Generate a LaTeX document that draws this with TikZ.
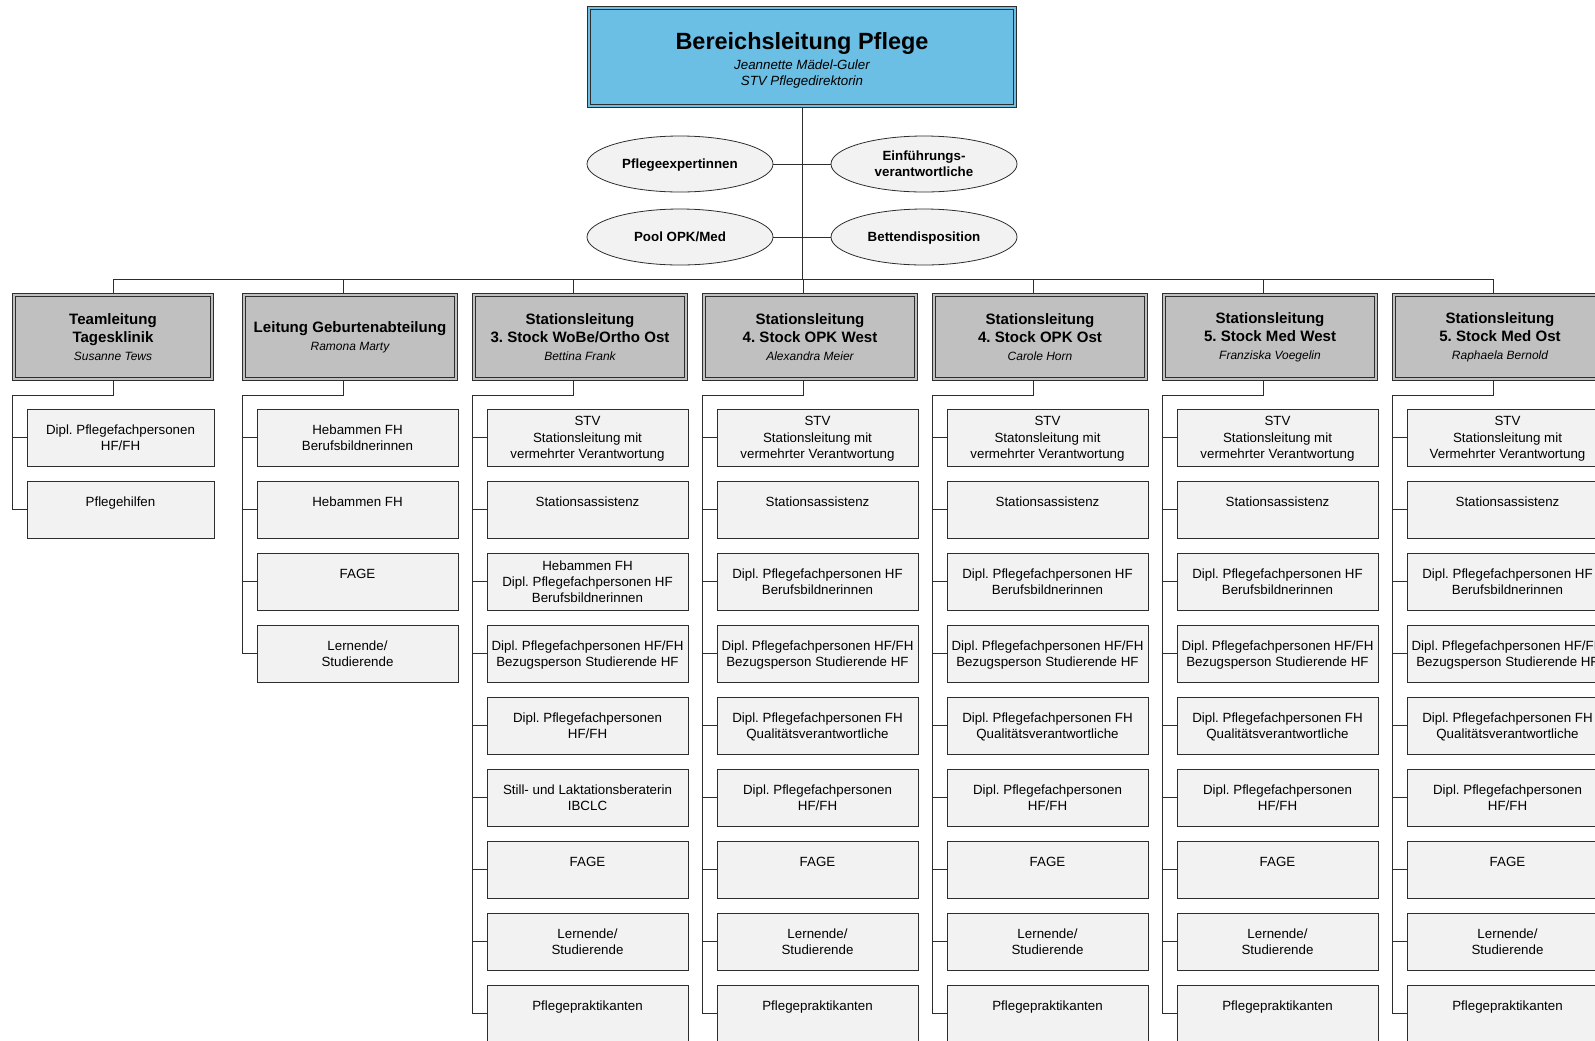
\documentclass[tikz,border=0pt]{standalone}
\usepackage{fontspec}
\setmainfont{Liberation Sans}
\usetikzlibrary{shapes,positioning,backgrounds}
\frenchspacing

\definecolor{chiefblue}{RGB}{107,190,228}
\definecolor{leadgray}{RGB}{192,192,192}
\definecolor{boxgray}{RGB}{242,242,242}
\definecolor{linegray}{RGB}{45,45,45}

\newcommand{\hbf}{\fontsize{11.3}{13.5}\selectfont\bfseries}
\newcommand{\hit}{\fontsize{9}{13.5}\selectfont\mdseries\itshape}

\begin{document}
\begin{tikzpicture}[x=0.75pt,y=-0.75pt,
    line/.style={draw=linegray,line width=0.6pt},
    chief/.style={rectangle,fill=chiefblue,draw=linegray,double=chiefblue,double distance=1.6pt,
      line width=0.6pt,minimum width=319.7pt,minimum height=73pt,inner sep=0pt,align=center,
      text depth=0pt,font=\fontsize{10}{12}\selectfont},
    lead/.style={rectangle,fill=leadgray,draw=linegray,double=leadgray,double distance=1.6pt,
      line width=0.6pt,minimum width=159.2pt,minimum height=62.5pt,inner sep=0pt,align=center,
      font=\fontsize{11.3}{13.5}\selectfont},
    staff/.style={ellipse,fill=boxgray,draw=linegray,line width=0.6pt,minimum width=139.5pt,
      minimum height=42pt,inner sep=0pt,align=center,text depth=0pt,
      font=\fontsize{10}{12}\selectfont\bfseries},
    member/.style={rectangle,fill=boxgray,draw=linegray,line width=0.6pt,minimum width=150.75pt,
      minimum height=42.75pt,inner sep=0pt,align=center,text depth=0pt,
      font=\fontsize{10}{12.2}\selectfont}]
    \useasboundingbox (0,0) rectangle (1595,1040);
    \clip (0,0) rectangle (1595,1040);
    %
    % Bereichsleitung und Stabsstellen
    \node[chief] (top) at (802,57) {\rule{0pt}{15.5pt}{\fontsize{17.6}{20}\selectfont\bfseries Bereichsleitung Pflege}\\[2.8pt]
      \itshape Jeannette Mädel-Guler\\\itshape STV Pflegedirektorin};
    \node[staff] (pe) at (680,164) {Pflegeexpertinnen};
    \node[staff] (ev) at (924,164) {Einführungs-\\verantwortliche};
    \node[staff] (pool) at (680,237) {Pool OPK/Med};
    \node[staff] (bett) at (924,237) {Bettendisposition};
    \coordinate (bus) at (802,279);
    %
    % Teamleitung Tagesklinik
    \pgfmathsetmacro{\l}{12}
    \node[lead,minimum width=148.7pt] (h1) at (\l+101,337) {\hbf Teamleitung\\\hbf Tagesklinik\\\hit Susanne Tews};
    \coordinate (d1) at (\l+101,279);
    \coordinate (s1) at (\l,395);
    \foreach \lbl [count=\i] in {{Dipl. Pflegefachpersonen\\HF/FH},{Pflegehilfen\\\mbox{}}}
      \node[member,minimum width=140.25pt] (c1-\i) at (\l+108.5,{437.5+72*(\i-1)}) {\lbl};
    %
    % Geburtenabteilung
    \pgfmathsetmacro{\l}{242}
    \node[lead] (h2) at (\l+108,337) {\hbf Leitung Geburtenabteilung\\\hit Ramona Marty};
    \coordinate (d2) at (\l+101,279);
    \coordinate (s2) at (\l,395);
    \foreach \lbl [count=\i] in {{Hebammen FH\\Berufsbildnerinnen},{Hebammen FH\\\mbox{}},{FAGE\\\mbox{}},
        {Lernende/\\Studierende}}
      \node[member] (c2-\i) at (\l+115.5,{437.5+72*(\i-1)}) {\lbl};
    %
    % 3. Stock WoBe/Ortho Ost
    \pgfmathsetmacro{\l}{472}
    \node[lead] (h3) at (\l+108,337) {\hbf Stationsleitung\\\hbf 3. Stock WoBe/Ortho Ost\\\hit Bettina Frank};
    \coordinate (d3) at (\l+101,279);
    \coordinate (s3) at (\l,395);
    \foreach \lbl [count=\i] in {{STV\\Stationsleitung mit\\vermehrter Verantwortung},{Stationsassistenz\\\mbox{}},
        {Hebammen FH\\Dipl. Pflegefachpersonen HF\\Berufsbildnerinnen},
        {Dipl. Pflegefachpersonen HF/FH\\Bezugsperson Studierende HF},{Dipl. Pflegefachpersonen\\HF/FH},
        {Still- und Laktationsberaterin\\IBCLC},{FAGE\\\mbox{}},{Lernende/\\Studierende},{Pflegepraktikanten\\\mbox{}}}
      \node[member] (c3-\i) at (\l+115.5,{437.5+72*(\i-1)}) {\lbl};
    %
    % 4. Stock OPK West
    \pgfmathsetmacro{\l}{702}
    \node[lead] (h4) at (\l+108,337) {\hbf Stationsleitung\\\hbf 4. Stock OPK West\\\hit Alexandra Meier};
    \coordinate (d4) at (\l+101,279);
    \coordinate (s4) at (\l,395);
    \foreach \lbl [count=\i] in {{STV\\Stationsleitung mit\\vermehrter Verantwortung},{Stationsassistenz\\\mbox{}},
        {Dipl. Pflegefachpersonen HF\\Berufsbildnerinnen},{Dipl. Pflegefachpersonen HF/FH\\Bezugsperson Studierende HF},
        {Dipl. Pflegefachpersonen FH\\Qualitätsverantwortliche},{Dipl. Pflegefachpersonen\\HF/FH},
        {FAGE\\\mbox{}},{Lernende/\\Studierende},{Pflegepraktikanten\\\mbox{}}}
      \node[member] (c4-\i) at (\l+115.5,{437.5+72*(\i-1)}) {\lbl};
    %
    % 4. Stock OPK Ost
    \pgfmathsetmacro{\l}{932}
    \node[lead] (h5) at (\l+108,337) {\hbf Stationsleitung\\\hbf 4. Stock OPK Ost\\\hit Carole Horn};
    \coordinate (d5) at (\l+101,279);
    \coordinate (s5) at (\l,395);
    \foreach \lbl [count=\i] in {{STV\\Statonsleitung mit\\vermehrter Verantwortung},{Stationsassistenz\\\mbox{}},
        {Dipl. Pflegefachpersonen HF\\Berufsbildnerinnen},{Dipl. Pflegefachpersonen HF/FH\\Bezugsperson Studierende HF},
        {Dipl. Pflegefachpersonen FH\\Qualitätsverantwortliche},{Dipl. Pflegefachpersonen\\HF/FH},
        {FAGE\\\mbox{}},{Lernende/\\Studierende},{Pflegepraktikanten\\\mbox{}}}
      \node[member] (c5-\i) at (\l+115.5,{437.5+72*(\i-1)}) {\lbl};
    %
    % 5. Stock Med West
    \pgfmathsetmacro{\l}{1162}
    \node[lead] (h6) at (\l+108,337) {\hbf Stationsleitung\\\hbf 5. Stock Med West\\\hit Franziska Voegelin};
    \coordinate (d6) at (\l+101,279);
    \coordinate (s6) at (\l,395);
    \foreach \lbl [count=\i] in {{STV\\Stationsleitung mit\\vermehrter Verantwortung},{Stationsassistenz\\\mbox{}},
        {Dipl. Pflegefachpersonen HF\\Berufsbildnerinnen},{Dipl. Pflegefachpersonen HF/FH\\Bezugsperson Studierende HF},
        {Dipl. Pflegefachpersonen FH\\Qualitätsverantwortliche},{Dipl. Pflegefachpersonen\\HF/FH},
        {FAGE\\\mbox{}},{Lernende/\\Studierende},{Pflegepraktikanten\\\mbox{}}}
      \node[member] (c6-\i) at (\l+115.5,{437.5+72*(\i-1)}) {\lbl};
    %
    % 5. Stock Med Ost
    \pgfmathsetmacro{\l}{1392}
    \node[lead] (h7) at (\l+108,337) {\hbf Stationsleitung\\\hbf 5. Stock Med Ost\\\hit Raphaela Bernold};
    \coordinate (d7) at (\l+101,279);
    \coordinate (s7) at (\l,395);
    \foreach \lbl [count=\i] in {{STV\\Stationsleitung mit\\Vermehrter Verantwortung},{Stationsassistenz\\\mbox{}},
        {Dipl. Pflegefachpersonen HF\\Berufsbildnerinnen},{Dipl. Pflegefachpersonen HF/FH\\Bezugsperson Studierende HF},
        {Dipl. Pflegefachpersonen FH\\Qualitätsverantwortliche},{Dipl. Pflegefachpersonen\\HF/FH},
        {FAGE\\\mbox{}},{Lernende/\\Studierende},{Pflegepraktikanten\\\mbox{}}}
      \node[member] (c7-\i) at (\l+115.5,{437.5+72*(\i-1)}) {\lbl};
    %
    % Verbindungen
    \begin{pgfonlayer}{background}
      \draw[line] (top.south) -- (bus);
      \draw[line] (pe.east) -- (ev.west);
      \draw[line] (pool.east) -- (bett.west);
      \draw[line] (d1) -- (d7);
      \foreach \c/\n in {1/2,2/4,3/9,4/9,5/9,6/9,7/9} {
        \draw[line] (d\c) -- (h\c.north -| d\c);
        \draw[line] (h\c.south -| d\c) |- (s\c) -- (s\c |- c\c-\n.west);
        \foreach \i in {1,...,\n}
          \draw[line] (s\c |- c\c-\i.west) -- (c\c-\i.west);
      }
    \end{pgfonlayer}
\end{tikzpicture}
\end{document}
